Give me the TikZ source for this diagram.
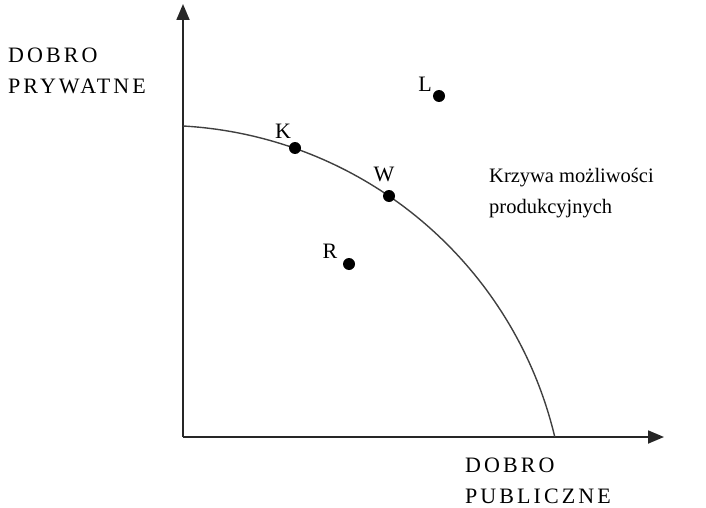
\documentclass[tikz,border=0pt]{standalone}
\usepackage{fontspec}
\setmainfont{Liberation Serif}
\newfontfamily\capsfont[LetterSpace=14]{Liberation Serif}
\usetikzlibrary{arrows.meta}
\begin{document}
\begin{tikzpicture}[x=1pt,y=-1pt,
  axis/.style={line width=1.8pt,draw=black!85,-{Triangle[length=16pt,width=13pt]}},
  ppf/.style={line width=1.4pt,draw=black!75},
  pt/.style={circle,fill=black,inner sep=0pt,minimum size=12pt},
  ptlabel/.style={font=\fontsize{22}{24}\selectfont,inner sep=0pt},
  capslabel/.style={font=\capsfont\fontsize{22}{31}\selectfont,align=left,anchor=north west,inner sep=0pt},
  textlabel/.style={font=\fontsize{20.5}{31}\selectfont,align=left,anchor=north west,inner sep=0pt}]
\useasboundingbox (0,0) rectangle (706,508);
\coordinate (O) at (183,437);
\coordinate (Ytip) at (183,4);
\coordinate (Xtip) at (664,437);
\coordinate (Cstart) at (183,126);
\draw[axis] (O) -- (Ytip);
\draw[axis] (O) -- (Xtip);
\draw[ppf] (Cstart) arc[start angle=86.78,end angle=13.43,radius=405.6pt];
\node[pt] (K) at (295,148) {};
\node[pt] (W) at (389,196) {};
\node[pt] (L) at (439,96) {};
\node[pt] (R) at (349,264) {};
\node[ptlabel] (Klab) at (283,131) {K};
\node[ptlabel] (Wlab) at (384,174) {W};
\node[ptlabel] (Llab) at (425,84) {L};
\node[ptlabel] (Rlab) at (330,251) {R};
\node[capslabel] (ylab) at (8,48) {DOBRO\\PRYWATNE};
\node[capslabel] (xlab) at (465,458) {DOBRO\\PUBLICZNE};
\node[textlabel] (curvelab) at (489,168) {Krzywa możliwości\\produkcyjnych};
\end{tikzpicture}
\end{document}
